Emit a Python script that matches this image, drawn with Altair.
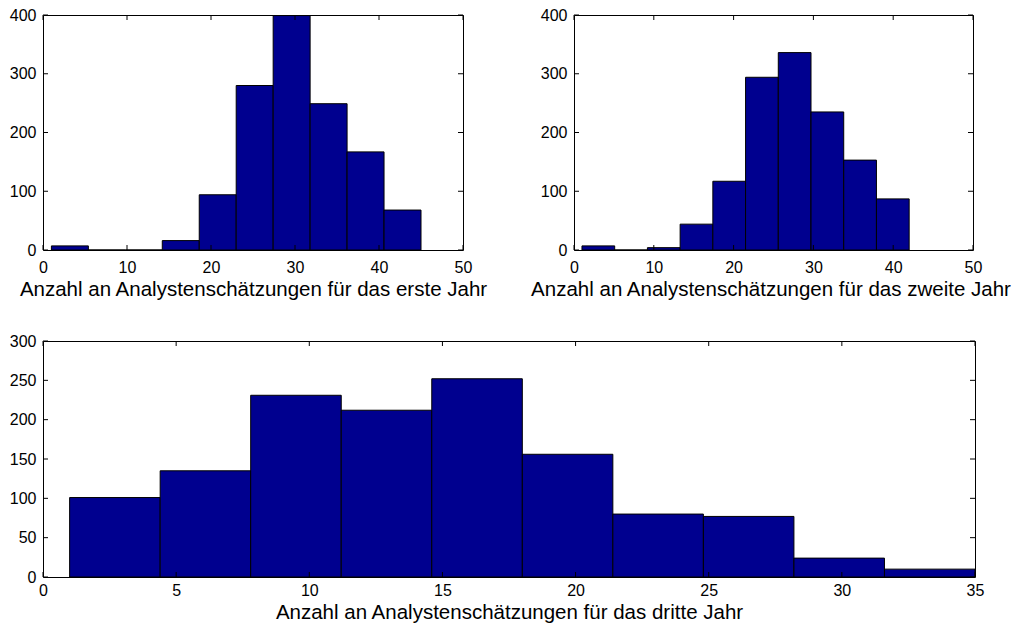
import altair as alt
import pandas as pd

# ---- data ----
y1_edges = [1.0, 5.4, 9.8, 14.2, 18.6, 23.0, 27.4, 31.8, 36.2, 40.6, 45.0]
y1_counts = [7, 0, 0, 16, 94, 280, 399, 249, 167, 68]

y2_edges = [1.0, 5.1, 9.2, 13.3, 17.4, 21.5, 25.6, 29.7, 33.8, 37.9, 42.0]
y2_counts = [7, 0, 4, 44, 117, 294, 336, 235, 153, 87]

y3_edges = [1.0, 4.4, 7.8, 11.2, 14.6, 18.0, 21.4, 24.8, 28.2, 31.6, 35.0]
y3_counts = [101, 135, 231, 212, 252, 156, 80, 77, 24, 10]

x_ticks_top = [0, 10, 20, 30, 40, 50]
y_ticks_top = [0, 100, 200, 300, 400]
x_ticks_bottom = [0, 5, 10, 15, 20, 25, 30, 35]
y_ticks_bottom = [0, 50, 100, 150, 200, 250, 300]

titles = [
    "Anzahl an Analystenschätzungen für das erste Jahr",
    "Anzahl an Analystenschätzungen für das zweite Jahr",
    "Anzahl an Analystenschätzungen für das dritte Jahr",
]

FONT = "Liberation Sans"
BAR = "#00008F"
TICK = 5


def panel(edges, counts, xdom, ydom, xticks, yticks, title, w, h, lpad, tpad,
          tsize, tshift):
    df = pd.DataFrame({"lo": edges[:-1], "hi": edges[1:], "n": counts})
    xs = alt.Scale(domain=xdom, nice=False, zero=False)
    ys = alt.Scale(domain=ydom, nice=False)
    xaxis = alt.Axis(values=xticks, ticks=False, domain=False, grid=False,
                     labelPadding=lpad, labelFontSize=16, labelFont=FONT,
                     labelColor="black", labelFlush=False, labelOverlap=False,
                     format="d", title=title, titleFont=FONT, titleFontSize=tsize,
                     titleFontWeight="normal", titleColor="black", titlePadding=tpad,
                     titleX=w / 2 + tshift)
    yaxis = alt.Axis(values=yticks, ticks=False, domain=False, grid=False,
                     labelPadding=7, labelFontSize=16, labelFont=FONT,
                     labelColor="black", labelFlush=False, labelOverlap=False,
                     format="d", title=None)
    bars = alt.Chart(df).mark_rect(fill=BAR, stroke="black", strokeWidth=1).encode(
        x=alt.X("lo:Q", scale=xs, axis=xaxis),
        x2="hi:Q",
        y=alt.Y("n:Q", scale=ys, axis=yaxis),
        y2=alt.datum(0),
    )
    xt = pd.DataFrame({"t": xticks})
    yt = pd.DataFrame({"t": yticks})
    tb = alt.Chart(xt).mark_rule(color="black", strokeWidth=1).encode(
        x=alt.X("t:Q", scale=xs, axis=xaxis), y=alt.value(h), y2=alt.value(h - TICK))
    tt = alt.Chart(xt).mark_rule(color="black", strokeWidth=1).encode(
        x=alt.X("t:Q", scale=xs, axis=xaxis), y=alt.value(0), y2=alt.value(TICK))
    tl = alt.Chart(yt).mark_rule(color="black", strokeWidth=1).encode(
        y=alt.Y("t:Q", scale=ys, axis=yaxis), x=alt.value(0), x2=alt.value(TICK))
    tr = alt.Chart(yt).mark_rule(color="black", strokeWidth=1).encode(
        y=alt.Y("t:Q", scale=ys, axis=yaxis), x=alt.value(w), x2=alt.value(w - TICK))
    return alt.layer(bars, tb, tt, tl, tr).properties(width=w, height=h)


p1 = panel(y1_edges, y1_counts, [0, 50], [0, 400], x_ticks_top, y_ticks_top, titles[0],
           420, 235, 9, 4, 20.5, 0)
p2 = panel(y2_edges, y2_counts, [0, 50], [0, 400], x_ticks_top, y_ticks_top, titles[1],
           399, 235, 9, 4, 20.5, -3)
p3 = panel(y3_edges, y3_counts, [0, 35], [0, 300], x_ticks_bottom, y_ticks_bottom, titles[2],
           932, 236, 5, 4, 20.5, 0)

top = alt.hconcat(p1, p2, spacing=111, bounds="flush")
chart = alt.vconcat(top, p3, spacing=32).properties(
    padding={"left": 0, "top": -2, "right": 0, "bottom": 0}
).configure(background="white").configure_view(stroke="black", strokeWidth=1)

chart.save("out.html", embed_options={"renderer": "svg", "actions": False})
